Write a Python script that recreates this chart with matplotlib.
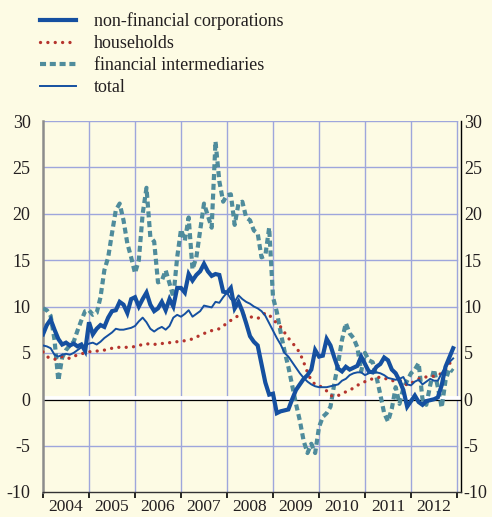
import numpy as np
import matplotlib
matplotlib.use('Agg')
from matplotlib import pyplot as plt

plt.rcParams['font.family'] = ['Liberation Serif', 'DejaVu Serif']
plt.rcParams['axes.unicode_minus'] = False

# monthly data, Jan 2004 - Dec 2012 (annual growth rates, %)
non_financial = [7.0, 8.0, 8.6, 7.5, 6.5, 5.9, 6.1, 5.8, 6.0, 5.7, 5.9, 5.2,
                 8.3, 7.0, 7.6, 8.0, 7.8, 8.8, 9.5, 9.6, 10.5, 10.2, 9.3, 10.8,
                 11.0, 10.0, 10.8, 11.5, 10.2, 9.5, 9.8, 10.5, 9.6, 10.8, 10.0, 12.0,
                 12.0, 11.5, 13.5, 12.8, 13.4, 13.8, 14.6, 13.8, 13.3, 13.5, 13.4, 11.6,
                 11.5, 12.0, 9.8, 10.5, 9.5, 8.2, 6.8, 6.2, 5.8, 3.8, 1.8, 0.5,
                 0.6, -1.5, -1.3, -1.2, -1.1, 0.0, 1.0, 1.6, 2.2, 2.6, 3.2, 5.3,
                 4.6, 4.7, 6.5, 5.8, 4.5, 3.3, 3.0, 3.5, 3.2, 3.4, 3.6, 4.6,
                 3.8, 3.0, 2.9, 3.5, 3.8, 4.5, 4.2, 3.2, 2.8, 2.0, 1.0, -0.8,
                 -0.2, 0.4, -0.3, -0.6, -0.2, -0.1, 0.0, 0.2, 1.5, 3.5, 4.5, 5.5]
households = [5.1, 4.6, 4.4, 4.3, 4.4, 4.6, 4.5, 4.4, 4.6, 4.8, 4.9, 5.0,
              5.1, 5.2, 5.2, 5.2, 5.3, 5.4, 5.5, 5.6, 5.6, 5.6, 5.6, 5.6,
              5.7, 5.8, 5.9, 6.0, 5.9, 5.9, 6.0, 6.0, 6.1, 6.1, 6.2, 6.2,
              6.3, 6.3, 6.4, 6.5, 6.7, 6.9, 7.1, 7.2, 7.4, 7.5, 7.6, 7.9,
              8.2, 8.5, 8.8, 9.0, 9.0, 9.0, 8.9, 8.8, 8.7, 9.0, 9.3, 9.1,
              8.6, 8.2, 7.8, 7.2, 6.6, 6.1, 5.6, 5.0, 4.0, 2.9, 2.0, 1.6,
              1.5, 1.2, 0.9, 0.4, 0.3, 0.4, 0.6, 0.8, 1.0, 1.2, 1.5, 1.7,
              1.9, 2.1, 2.2, 2.3, 2.4, 2.3, 2.1, 2.0, 2.0, 2.0, 1.9, 1.5,
              1.7, 2.0, 2.2, 2.4, 2.4, 2.4, 2.5, 2.6, 2.8, 3.2, 3.8, 4.4]
financial = [9.8, 9.6, 9.0, 6.4, 2.0, 4.5, 5.3, 5.8, 6.2, 7.4, 8.5, 9.5,
             9.6, 9.1, 9.3, 11.0, 13.9, 15.3, 17.9, 20.4, 21.1, 19.3, 16.8, 15.3,
             13.6, 15.0, 20.0, 22.8, 17.5, 17.0, 12.6, 12.8, 13.9, 12.5, 11.0, 15.3,
             18.3, 17.1, 19.6, 14.0, 15.3, 18.2, 21.1, 19.8, 18.5, 27.8, 23.5, 21.3,
             22.0, 22.1, 18.8, 21.1, 21.3, 19.6, 19.3, 18.2, 17.9, 15.3, 15.5, 18.5,
             11.0, 9.4, 7.2, 5.2, 3.5, 1.5, -0.5, -2.3, -4.5, -5.8, -4.8, -5.8,
             -3.0, -1.9, -1.5, -0.8, 1.7, 3.9, 6.4, 8.2, 7.1, 6.6, 5.6, 3.0,
             5.0, 4.2, 4.0, 2.4, 0.5, -1.5, -2.4, -1.0, 1.3, -0.5, 1.2, 2.0,
             2.8, 3.2, 3.9, 0.0, -0.6, 1.5, 3.2, 1.3, -0.9, 2.0, 3.3, 3.0]
total = [5.8, 5.7, 5.5, 4.8, 4.6, 4.8, 4.9, 4.8, 5.0, 5.3, 5.6, 5.8,
         6.0, 6.1, 5.9, 6.2, 6.6, 6.9, 7.2, 7.6, 7.5, 7.5, 7.6, 7.7,
         7.9, 8.4, 8.8, 8.3, 7.6, 7.3, 7.6, 7.8, 7.5, 7.9, 8.8, 9.1,
         8.9, 9.2, 9.6, 8.9, 9.2, 9.5, 10.1, 10.0, 9.9, 10.5, 10.4, 11.0,
         11.5, 10.8, 10.5, 11.2, 10.8, 10.5, 10.3, 10.0, 9.8, 9.5, 9.0, 8.2,
         7.4, 6.6, 5.9, 5.0, 4.6, 4.0, 3.4, 2.8, 2.3, 1.9, 1.6, 1.4,
         1.3, 1.3, 1.3, 1.4, 1.5, 1.6, 2.0, 2.2, 2.6, 2.8, 2.9, 2.9,
         2.6, 2.8, 2.9, 2.9, 2.8, 2.6, 2.3, 2.2, 2.1, 2.2, 2.4, 1.6,
         1.5, 1.9, 2.1, 1.6, 1.9, 2.2, 2.0, 2.0, 2.8, 3.5, 4.0, 4.4]
years = list(range(2004, 2013))

t = 2004 + np.arange(len(total)) / 12.0

bg = '#fdfbe4'
grid_col = '#9ea6dc'
txt = '#231f20'

fig = plt.figure(figsize=(4.92, 5.17), dpi=100, facecolor=bg)
ax = fig.add_axes([43 / 492, 1 - 492 / 517, 418 / 492, 371 / 517])
ax.set_facecolor(bg)

ax.set_xlim(2004, 2013.087)
ax.set_ylim(-10, 30)

# grid
for y in range(-5, 31, 5):
    ax.plot([2004, 2013], [y, y], color=grid_col, lw=1, zorder=1)
for yr in range(2005, 2014):
    ax.axvline(yr, color=grid_col, lw=1, zorder=1)

# zero line
ax.plot([2004, 2013.087], [0.15, 0.15], color='white', lw=3.5, zorder=2)
ax.plot([2004, 2013.087], [-0.12, -0.12], color='black', lw=0.9, zorder=2)

l1, = ax.plot(t, non_financial, color='#1550a0', lw=3.0, zorder=5,
              solid_joinstyle='miter')
l2, = ax.plot(t, households, color='#b5342d', lw=2.4, zorder=4,
              linestyle=(0, (0.01, 2.2)), dash_capstyle='round')
l3, = ax.plot(t, financial, color='#4f8c9c', lw=3.0, zorder=3,
              linestyle=(0, (1.45, 0.9)))
l4, = ax.plot(t, total, color='#1550a0', lw=1.4, zorder=6)

# spines
ax.spines['top'].set_visible(False)
ax.spines['left'].set_color('#8c8c8c')
ax.spines['left'].set_linewidth(1.8)
ax.spines['right'].set_color('black')
ax.spines['right'].set_linewidth(1.0)
ax.spines['bottom'].set_color('#333333')
ax.spines['bottom'].set_linewidth(1.0)

# y ticks: left on main axis, right on a twin
ax.set_yticks(range(-10, 31, 5))
ax.tick_params(axis='y', length=0, labelsize=13, labelcolor=txt, pad=9)

ax2 = ax.twinx()
ax2.set_ylim(ax.get_ylim())
ax2.set_yticks(range(-10, 31, 5))
ax2.tick_params(axis='y', length=0, labelsize=13, labelcolor=txt, pad=2)
for s in ax2.spines.values():
    s.set_visible(False)

# x ticks: boundaries as major, year labels centred as minor
ax.set_xticks(range(2004, 2014))
ax.set_xticklabels([])
ax.set_xticks([y + 0.5 for y in years], minor=True)
ax.set_xticklabels([str(y) for y in years], minor=True)
ax.tick_params(axis='x', which='major', direction='out', length=4,
               width=1.2, color='black')
ax.tick_params(axis='x', which='minor', length=0, labelsize=12.5,
               labelcolor=txt, pad=5)

leg = fig.legend([l1, l2, l3, l4],
                 ['non-financial corporations', 'households',
                  'financial intermediaries', 'total'],
                 loc='upper left', bbox_to_anchor=(0.066, 0.99),
                 frameon=False, fontsize=13, handlelength=2.0,
                 handletextpad=1.0, labelspacing=0.28, borderaxespad=0)
for text in leg.get_texts():
    text.set_color(txt)

fig.savefig('out.png', dpi=100, facecolor=bg)
